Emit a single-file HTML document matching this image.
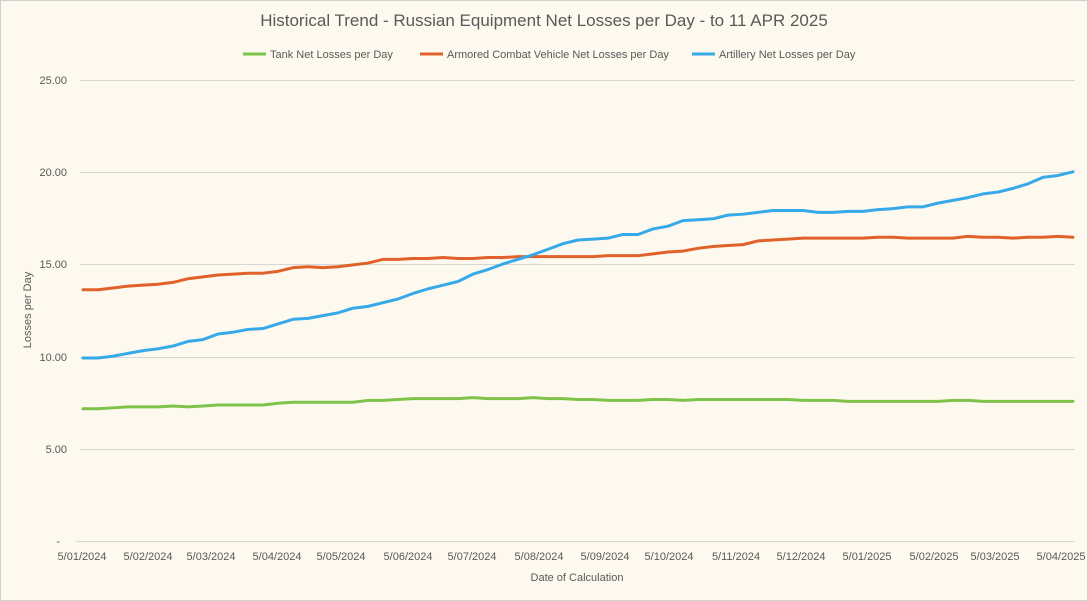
<!DOCTYPE html>
<html><head><meta charset="utf-8"><style>
body{margin:0;background:#fff}
svg{display:block}
text{font-family:"Liberation Sans",sans-serif;fill:#595959}
</style></head><body>
<svg width="1088" height="601" xmlns="http://www.w3.org/2000/svg">
<rect x="0.5" y="0.5" width="1087" height="600" fill="#fdf9ef" stroke="#d0d0d0"/>
<text x="544" y="26" font-size="17" text-anchor="middle">Historical Trend - Russian Equipment Net Losses per Day - to 11 APR 2025</text>
<g font-size="11">
<line x1="243" y1="54" x2="266" y2="54" stroke="#7fc24a" stroke-width="3"/><text x="270" y="58">Tank Net Losses per Day</text>
<line x1="420" y1="54" x2="443" y2="54" stroke="#e0622a" stroke-width="3"/><text x="447" y="58">Armored Combat Vehicle Net Losses per Day</text>
<line x1="692" y1="54" x2="715" y2="54" stroke="#36a9e9" stroke-width="3"/><text x="719" y="58">Artillery Net Losses per Day</text>
</g>
<g stroke="#d6d6d6" stroke-width="1">
<line x1="80" y1="80.5" x2="1075" y2="80.5"/><line x1="80" y1="172.5" x2="1075" y2="172.5"/>
<line x1="80" y1="264.5" x2="1075" y2="264.5"/><line x1="80" y1="357.5" x2="1075" y2="357.5"/>
<line x1="80" y1="449.5" x2="1075" y2="449.5"/><line x1="76" y1="541.5" x2="1075" y2="541.5"/>
</g>
<g font-size="11" text-anchor="end">
<text x="67" y="84">25.00</text><text x="67" y="176">20.00</text><text x="67" y="268">15.00</text>
<text x="67" y="361">10.00</text><text x="67" y="453">5.00</text><text x="60" y="545">-</text>
</g>
<g font-size="11" text-anchor="middle">
<text x="82" y="560">5/01/2024</text><text x="148" y="560">5/02/2024</text><text x="211" y="560">5/03/2024</text>
<text x="277" y="560">5/04/2024</text><text x="341" y="560">5/05/2024</text><text x="408" y="560">5/06/2024</text>
<text x="472" y="560">5/07/2024</text><text x="539" y="560">5/08/2024</text><text x="605" y="560">5/09/2024</text>
<text x="669" y="560">5/10/2024</text><text x="736" y="560">5/11/2024</text><text x="801" y="560">5/12/2024</text>
<text x="867" y="560">5/01/2025</text><text x="934" y="560">5/02/2025</text><text x="995" y="560">5/03/2025</text>
<text x="1061" y="560">5/04/2025</text>
<text x="577" y="581">Date of Calculation</text>
</g>
<text font-size="11" text-anchor="middle" transform="translate(31,310) rotate(-90)">Losses per Day</text>
<g transform="translate(83,541.5) scale(15,-18.44)" fill="none" stroke-width="3" stroke-linejoin="round" stroke-linecap="round">
<polyline vector-effect="non-scaling-stroke" stroke="#7fc24a" points="0,7.2 1,7.2 2,7.25 3,7.3 4,7.3 5,7.3 6,7.35 7,7.3 8,7.35 9,7.4 10,7.4 11,7.4 12,7.4 13,7.5 14,7.55 15,7.55 16,7.55 17,7.55 18,7.55 19,7.65 20,7.65 21,7.7 22,7.75 23,7.75 24,7.75 25,7.75 26,7.8 27,7.75 28,7.75 29,7.75 30,7.8 31,7.75 32,7.75 33,7.7 34,7.7 35,7.65 36,7.65 37,7.65 38,7.7 39,7.7 40,7.65 41,7.7 42,7.7 43,7.7 44,7.7 45,7.7 46,7.7 47,7.7 48,7.65 49,7.65 50,7.65 51,7.6 52,7.6 53,7.6 54,7.6 55,7.6 56,7.6 57,7.6 58,7.65 59,7.65 60,7.6 61,7.6 62,7.6 63,7.6 64,7.6 65,7.6 66,7.6"/>
<polyline vector-effect="non-scaling-stroke" stroke="#e0622a" points="0,13.65 1,13.65 2,13.75 3,13.85 4,13.9 5,13.95 6,14.05 7,14.25 8,14.35 9,14.45 10,14.5 11,14.55 12,14.55 13,14.65 14,14.85 15,14.9 16,14.85 17,14.9 18,15.0 19,15.1 20,15.3 21,15.3 22,15.35 23,15.35 24,15.4 25,15.35 26,15.35 27,15.4 28,15.4 29,15.45 30,15.45 31,15.45 32,15.45 33,15.45 34,15.45 35,15.5 36,15.5 37,15.5 38,15.6 39,15.7 40,15.75 41,15.9 42,16.0 43,16.05 44,16.1 45,16.3 46,16.35 47,16.4 48,16.45 49,16.45 50,16.45 51,16.45 52,16.45 53,16.5 54,16.5 55,16.45 56,16.45 57,16.45 58,16.45 59,16.55 60,16.5 61,16.5 62,16.45 63,16.5 64,16.5 65,16.55 66,16.5"/>
<polyline vector-effect="non-scaling-stroke" stroke="#36a9e9" points="0,9.95 1,9.95 2,10.05 3,10.2 4,10.35 5,10.45 6,10.6 7,10.85 8,10.95 9,11.25 10,11.35 11,11.5 12,11.55 13,11.8 14,12.05 15,12.1 16,12.25 17,12.4 18,12.65 19,12.75 20,12.95 21,13.15 22,13.45 23,13.7 24,13.9 25,14.1 26,14.5 27,14.75 28,15.05 29,15.3 30,15.55 31,15.85 32,16.15 33,16.35 34,16.4 35,16.45 36,16.65 37,16.65 38,16.95 39,17.1 40,17.4 41,17.45 42,17.5 43,17.7 44,17.75 45,17.85 46,17.95 47,17.95 48,17.95 49,17.85 50,17.85 51,17.9 52,17.9 53,18.0 54,18.05 55,18.15 56,18.15 57,18.35 58,18.5 59,18.65 60,18.85 61,18.95 62,19.15 63,19.4 64,19.75 65,19.85 66,20.05"/>
</g>
</svg>
</body></html>
